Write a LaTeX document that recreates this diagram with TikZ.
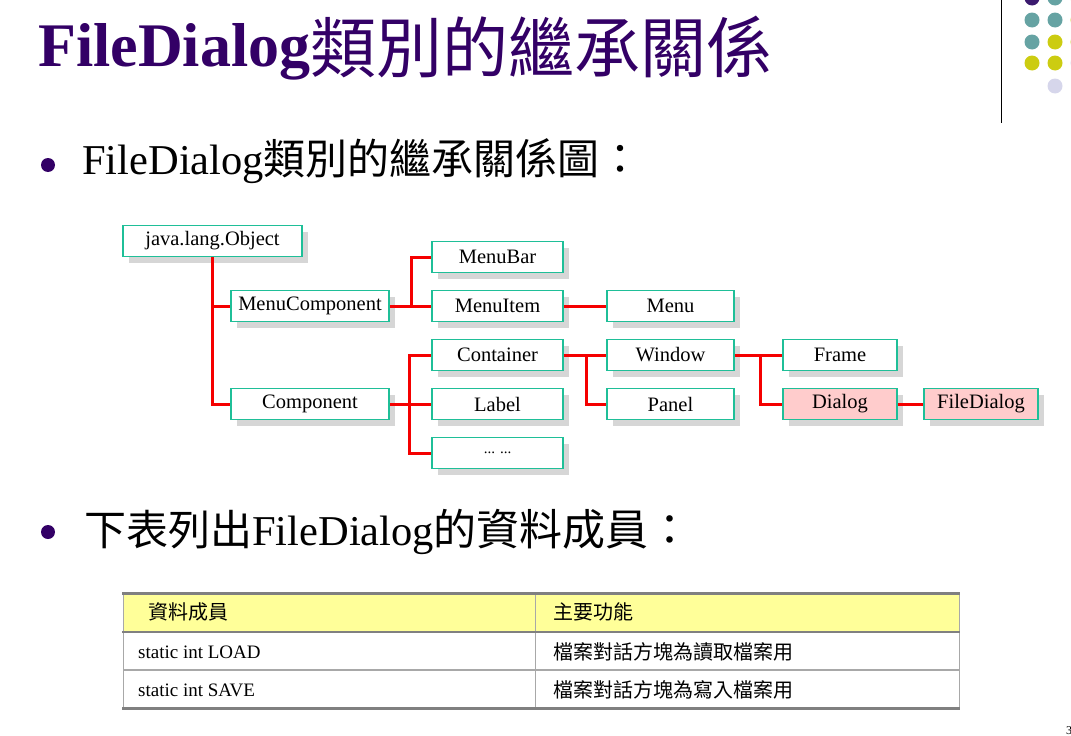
\documentclass[tikz,border=0pt]{standalone}
\usepackage{fontspec}
\setmainfont{Liberation Serif}
\newfontfamily\cjk{Noto Sans CJK TC}
\usetikzlibrary{shadows}

\definecolor{titlepurple}{HTML}{330066}
\definecolor{boxline}{HTML}{1FBF98}
\definecolor{linkred}{HTML}{F50000}
\definecolor{shade}{HTML}{D6D6D6}
\definecolor{pinkfill}{HTML}{FFCCCC}
\definecolor{headfill}{HTML}{FFFF99}
\definecolor{rulegray}{HTML}{808080}
\definecolor{thingray}{HTML}{A8A8A8}
\definecolor{dotpurple}{HTML}{3B1A6E}
\definecolor{dotteal}{HTML}{66A3A3}
\definecolor{dotyellow}{HTML}{CCCC11}
\definecolor{dotlav}{HTML}{D6D6EB}

\tikzset{
  classbox/.style={draw=boxline, line width=1.8pt, fill=white, inner sep=0pt,
    minimum height=31pt, font=\fontsize{20.5}{22}\selectfont,
    drop shadow={shadow xshift=6pt, shadow yshift=-6pt, fill=shade, opacity=1}},
  hot/.style={classbox, fill=pinkfill},
  link/.style={draw=linkred, line width=3pt},
  deco/.style={circle, inner sep=0pt, minimum size=15pt},
  cell/.style={anchor=west, inner sep=0pt},
}

\begin{document}
\begin{tikzpicture}[x=1pt, y=-1pt]
\useasboundingbox (0,0) rectangle (1071,736);

% corner decoration: dot grid and divider
\foreach \px/\py/\c in {1032/-2/dotpurple, 1055/-2/dotteal, 1078/-2/dotyellow,
                        1032/20/dotteal, 1055/20/dotteal, 1078/20/dotyellow,
                        1032/42/dotteal, 1055/42/dotyellow, 1078/42/dotyellow,
                        1032/63/dotyellow, 1055/63/dotyellow, 1078/63/dotlav,
                        1055/86/dotlav}
  \node[deco, fill=\c] at (\px,\py) {};
\draw[line width=1pt] (1001,0) -- (1001,123);

% heading
\node[anchor=base west, inner sep=0pt, text=titlepurple] (title) at (38,66)
  {\fontsize{62}{70}\selectfont\bfseries FileDialog\raisebox{-6pt}{\cjk\mdseries\fontsize{66}{70}\selectfont 類別的繼承關係}};

% bullets
\node[circle, fill=titlepurple, inner sep=0pt, minimum size=14pt] (b1) at (48,165) {};
\node[anchor=base west, inner sep=0pt] (t1) at (82,174)
  {\fontsize{42.5}{48}\selectfont FileDialog{\cjk\fontsize{42}{48}\selectfont 類別的繼承關係圖：}};
\node[circle, fill=titlepurple, inner sep=0pt, minimum size=14pt] (b2) at (48,532) {};
\node[anchor=base west, inner sep=0pt] (t2) at (84,545)
  {{\cjk\fontsize{42}{48}\selectfont 下表列出}\fontsize{42.5}{48}\selectfont FileDialog{\cjk\fontsize{43}{48}\selectfont 的資料成員：}};

% class hierarchy
\node[classbox, minimum width=179pt] (obj)    at (212.5,241) {java.lang.Object};
\node[classbox, minimum width=158pt] (mcomp)  at (310,306)   {MenuComponent};
\node[classbox, minimum width=158pt] (comp)   at (310,404)   {Component};
\node[classbox, minimum width=131pt] (mbar)   at (497.5,257) {MenuBar};
\node[classbox, minimum width=131pt] (mitem)  at (497.5,306) {MenuItem};
\node[classbox, minimum width=131pt] (cont)   at (497.5,355) {Container};
\node[classbox, minimum width=131pt] (label)  at (497.5,404) {Label};
\node[classbox, minimum width=131pt, font=\fontsize{15}{17}\selectfont] (more) at (497.5,453) {... ...};
\node[classbox, minimum width=127pt] (menu)   at (670.5,306) {Menu};
\node[classbox, minimum width=127pt] (win)    at (670.5,355) {Window};
\node[classbox, minimum width=127pt] (panel)  at (670.5,404) {Panel};
\node[classbox, minimum width=114pt] (frame)  at (840,355)   {Frame};
\node[hot,      minimum width=114pt] (dialog) at (840,404)   {Dialog};
\node[hot,      minimum width=114pt] (fdlg)   at (981,404)   {FileDialog};

% inheritance connectors
\draw[link] (obj.south) |- (comp.west);
\draw[link] (obj.south |- mcomp.west) -- (mcomp.west);
\draw[link] (mcomp.east) -- (mitem.west);
\draw[link] ([xshift=21.5pt]mcomp.east) |- (mbar.west);
\draw[link] (comp.east) -- (label.west);
\draw[link] (cont.west) -| ([xshift=-21.5pt]more.west) -- (more.west);
\draw[link] (mitem.east) -- (menu.west);
\draw[link] (cont.east) -- (win.west);
\draw[link] ([xshift=23pt]cont.east) |- (panel.west);
\draw[link] (win.east) -- (frame.west);
\draw[link] ([xshift=26pt]win.east) |- (dialog.west);
\draw[link] (dialog.east) -- (fdlg.west);

% member table
\fill[headfill] (123,593) rectangle (959,632);
\draw[thingray, line width=1pt] (123,593) -- (123,708);
\draw[thingray, line width=1pt] (535,593) -- (535,708);
\draw[thingray, line width=1pt] (959,593) -- (959,708);
\draw[thingray, line width=1.5pt] (123,670) -- (959,670);
\draw[rulegray, line width=3pt] (122,593) -- (960,593);
\draw[rulegray, line width=2.5pt] (122,632) -- (960,632);
\draw[rulegray, line width=3pt] (122,708) -- (960,708);

\node[cell, font=\cjk\fontsize{20}{22}\selectfont] (h1) at (148,612) {資料成員};
\node[cell, font=\cjk\fontsize{20}{22}\selectfont] (h2) at (553,612) {主要功能};
\node[cell, font=\fontsize{19}{22}\selectfont] (r1a) at (138,652) {static int LOAD};
\node[cell, font=\cjk\fontsize{20}{22}\selectfont] (r1b) at (553,652) {檔案對話方塊為讀取檔案用};
\node[cell, font=\fontsize{19}{22}\selectfont] (r2a) at (138,690) {static int SAVE};
\node[cell, font=\cjk\fontsize{20}{22}\selectfont] (r2b) at (553,690) {檔案對話方塊為寫入檔案用};

% page number at the slide edge
\node[anchor=west, inner sep=0pt, font=\fontsize{12}{14}\selectfont] (pg) at (1066,731) {3};
\end{tikzpicture}
\end{document}
